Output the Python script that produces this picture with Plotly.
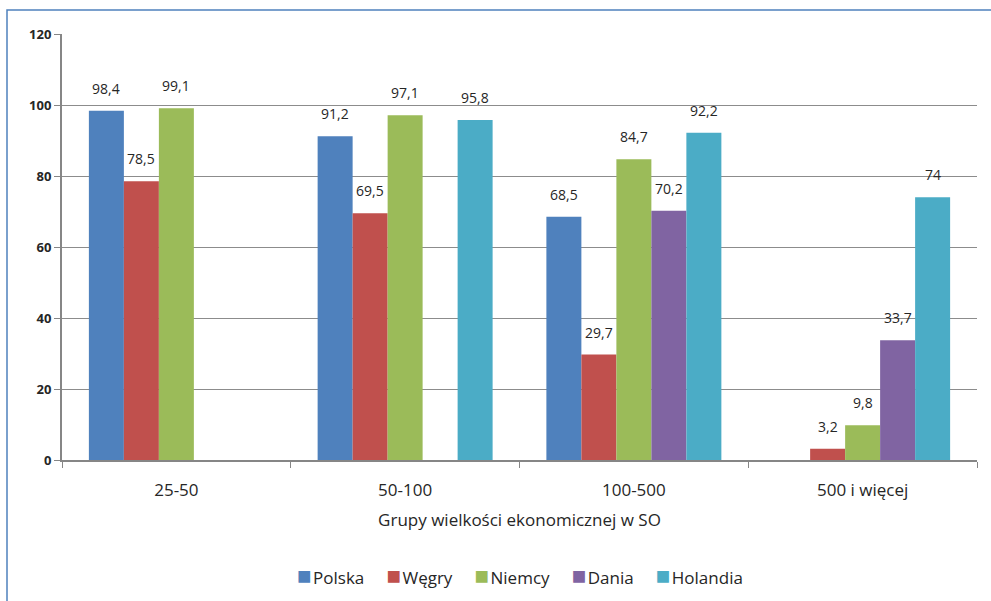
import plotly.graph_objects as go

categories = ["25-50", "50-100", "100-500", "500 i więcej"]
series_names = ["Polska", "Węgry", "Niemcy", "Dania", "Holandia"]
polska = [98.4, 91.2, 68.5, None]
wegry = [78.5, 69.5, 29.7, 3.2]
niemcy = [99.1, 97.1, 84.7, 9.8]
dania = [None, None, 70.2, 33.7]
holandia = [None, 95.8, 92.2, 74]
y_ticks = [0, 20, 40, 60, 80, 100, 120]

values = [polska, wegry, niemcy, dania, holandia]
colors = ["#4F81BD", "#C0504D", "#9BBB59", "#8064A2", "#4BACC6"]
FONT = "Open Sans, sans-serif"


def fmt(v):
    return ("%g" % v).replace(".", ",")


L, R, T, B = 62, 14, 34, 141
W, H = 991, 601
pw, ph = W - L - R, H - T - B
bargap = 0.235
n = len(series_names)
slot = pw / len(categories)
bar_px = slot * (1 - bargap) / n

fig = go.Figure()
annotations = []
for i, (name, vals, col) in enumerate(zip(series_names, values, colors)):
    fig.add_trace(go.Bar(
        name=name, x=categories, y=vals,
        marker=dict(color=col, line=dict(width=0)),
        showlegend=False,
    ))
    # value labels above each bar, shifted to the bar's slot in the group
    for c, v in zip(categories, vals):
        if v is None:
            continue
        annotations.append(dict(
            x=c, y=v, xref="x", yref="y", text=fmt(v), showarrow=False,
            xshift=(i - (n - 1) / 2) * bar_px, yanchor="bottom", yshift=11,
            font=dict(family=FONT, size=14, color="#262626"),
        ))

# legend row
legend_html = "     ".join(
    '<span style="color:%s;font-size:24px">■</span><span style="font-size:6px"> </span>%s'
    % (col, name)
    for name, col in zip(series_names, colors)
)
annotations.append(dict(
    x=0.5, y=-(574 - (H - B)) / ph, xref="paper", yref="paper",
    text=legend_html, showarrow=False, xanchor="center", yanchor="middle",
    font=dict(family=FONT, size=17, color="#262626"),
))

fig.update_layout(
    width=W, height=H,
    margin=dict(l=L, r=R, t=T, b=B),
    paper_bgcolor="white", plot_bgcolor="white",
    barmode="group", bargap=bargap, bargroupgap=0,
    font=dict(family=FONT, color="#262626"),
    showlegend=False,
    annotations=annotations,
    xaxis=dict(
        type="category", tickson="boundaries", ticks="outside", ticklen=6,
        tickcolor="#868686", showline=True, linecolor="#868686", linewidth=2,
        tickfont=dict(size=17), showgrid=False, ticklabelstandoff=14,
        title=dict(text="Grupy wielkości ekonomicznej w SO",
                   font=dict(size=17), standoff=14),
    ),
    yaxis=dict(
        range=[0, 120], tickvals=y_ticks, ticks="outside", ticklen=6,
        tickcolor="#868686", showline=True, linecolor="#868686", linewidth=2,
        showgrid=True, gridcolor="#8C8C8C", gridwidth=1,
        tickfont=dict(size=13, family=FONT, weight="bold"),
        zeroline=False,
    ),
    shapes=[dict(
        type="rect", xref="paper", yref="paper",
        x0=(7 - L) / pw, x1=(W + 10 - L) / pw,
        y0=-(H + 10 - (H - B)) / ph, y1=1 + (T - 10) / ph,
        line=dict(color="#4F81BD", width=1.5), layer="below",
    )],
)

fig.write_html("out.html")
